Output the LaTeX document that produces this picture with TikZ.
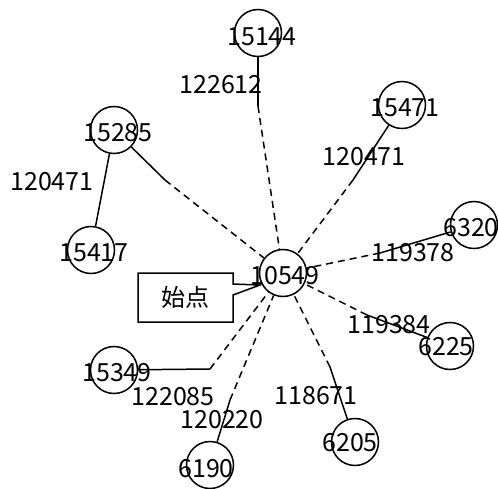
\documentclass[tikz,border=0pt]{standalone}
\usepackage{fontspec}
\setmainfont{Noto Sans CJK JP}
\usetikzlibrary{shapes.callouts}
\begin{document}
\begin{tikzpicture}[x=1pt,y=-1pt,
  vtx/.style={circle,draw,line width=1.5pt,minimum size=47pt,inner sep=0pt},
  lbl/.style={anchor=base,inner sep=0pt,font=\fontsize{25}{25}\selectfont},
  sol/.style={line width=1.5pt},
  dsh/.style={line width=1.5pt,dash pattern=on 7pt off 5pt}]
\useasboundingbox (0,0) rectangle (498,489);
% vertices
\node[vtx] (n10549) at (283,273) {};
\node[vtx] (n15144) at (258,33) {};
\node[vtx] (n15285) at (114,130) {};
\node[vtx] (n15417) at (91,250) {};
\node[vtx] (n15471) at (402,105) {};
\node[vtx] (n6320) at (474,225) {};
\node[vtx] (n6225) at (450,346) {};
\node[vtx] (n6205) at (355,442) {};
\node[vtx] (n15349) at (114,370) {};
\node[vtx] (n6190) at (210,465) {};
% bend points
\coordinate (b15144) at (258,106);
\coordinate (b15285) at (165,180);
\coordinate (b15471) at (353,180);
\coordinate (b6320) at (380,253);
\coordinate (b6225) at (367,315);
\coordinate (b6205) at (330,367);
\coordinate (b6190) at (230,400);
\coordinate (b15349) at (210,369);
% edges
\draw[sol] (n15144) -- (b15144); \draw[dsh] (b15144) -- (n10549);
\draw[sol] (n15285) -- (b15285); \draw[dsh] (b15285) -- (n10549);
\draw[sol] (n15471) -- (b15471); \draw[dsh] (b15471) -- (n10549);
\draw[sol] (n6320) -- (b6320); \draw[dsh] (b6320) -- (n10549);
\draw[sol] (n6225) -- (b6225); \draw[dsh] (b6225) -- (n10549);
\draw[sol] (n6205) -- (b6205); \draw[dsh] (b6205) -- (n10549);
\draw[sol] (n6190) -- (b6190); \draw[dsh] (b6190) -- (n10549);
\draw[sol] (n15349) -- (b15349); \draw[dsh] (b15349) -- (n10549);
\draw[sol] (n15285) -- (n15417);
% vertex labels
\node[lbl] (t10549) at (285,284.5) {10549};
\node[lbl] (t15144) at (262,45.5) {15144};
\node[lbl] (t15285) at (118,141.5) {15285};
\node[lbl] (t15417) at (94,261.5) {15417};
\node[lbl] (t15471) at (405,116.5) {15471};
\node[lbl] (t6320) at (471,236.5) {6320};
\node[lbl] (t6225) at (446,355.5) {6225};
\node[lbl] (t6205) at (350,451.5) {6205};
\node[lbl] (t15349) at (117,381.5) {15349};
\node[lbl] (t6190) at (206,477.5) {6190};
% edge labels
\node[lbl] (e1) at (221,93.5) {122612};
\node[lbl] (e2) at (52,190.5) {120471};
\node[lbl] (e3) at (364,165.5) {120471};
\node[lbl] (e4) at (413,261.5) {119378};
\node[lbl] (e5) at (389,333.5) {119384};
\node[lbl] (e6) at (316,404.5) {118671};
\node[lbl] (e7) at (173,405.5) {122085};
\node[lbl] (e8) at (222,428.5) {120220};
% callout
\node[rectangle callout,draw,line width=1.5pt,minimum width=95pt,minimum height=49pt,
  inner sep=0pt,callout absolute pointer={(260,285)},callout pointer width=11pt,
  font=\fontsize{24}{24}\selectfont] (start) at (185.5,297.5) {始点};
\end{tikzpicture}
\end{document}
